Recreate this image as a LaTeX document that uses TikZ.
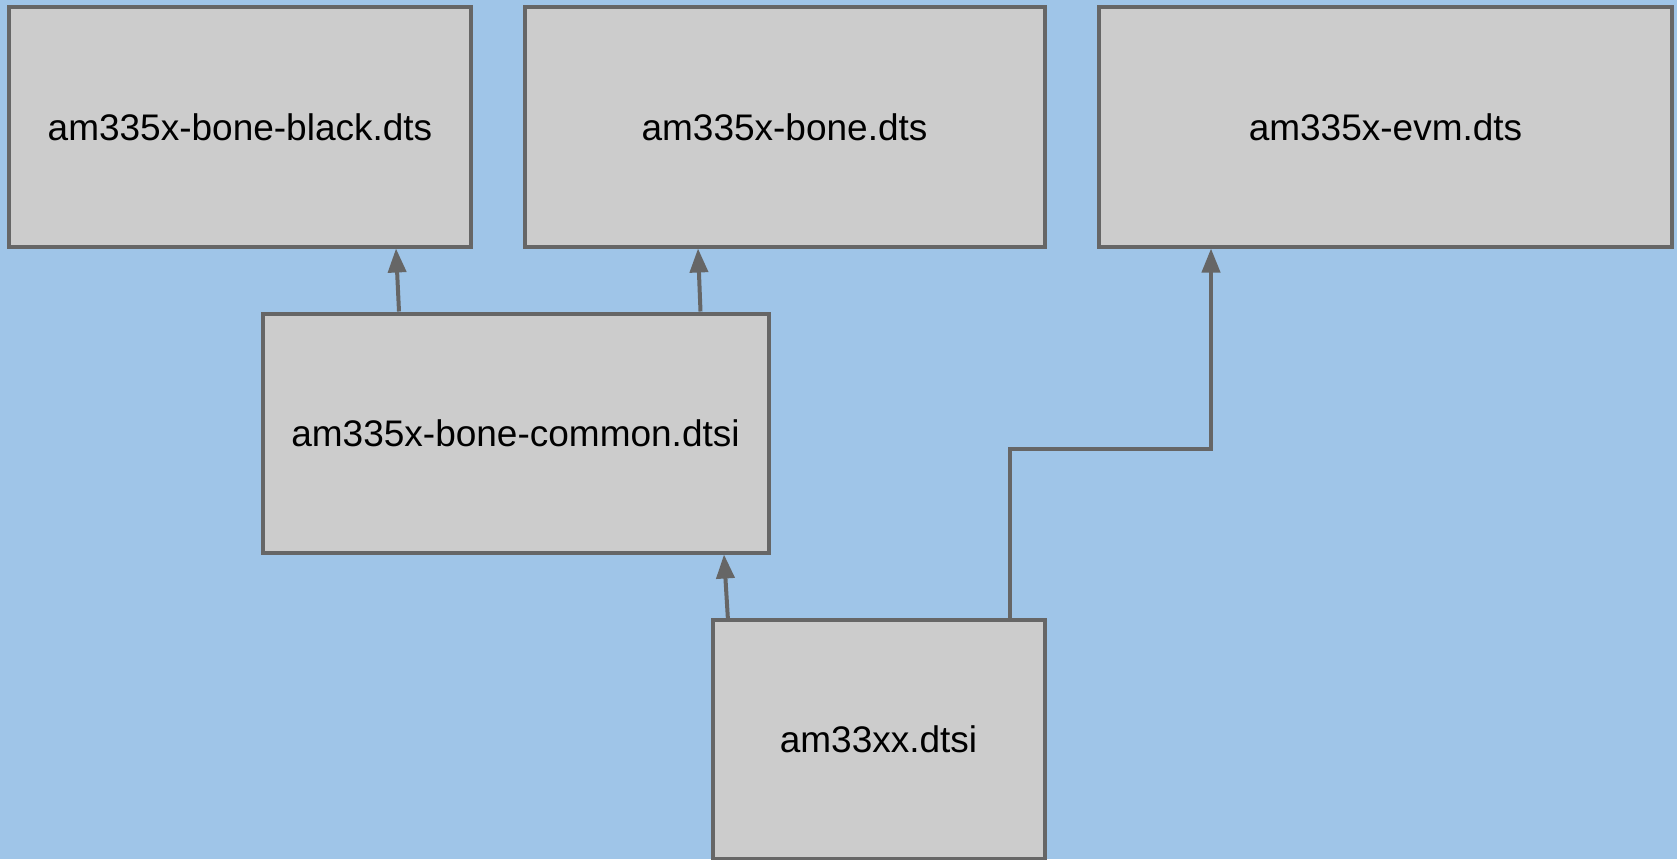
\documentclass[tikz,border=0pt]{standalone}
\usepackage{fontspec}
\setmainfont{Liberation Sans}
\usetikzlibrary{arrows.meta}
\definecolor{bg}{HTML}{9FC5E8}
\definecolor{boxfill}{HTML}{CCCCCC}
\definecolor{edge}{HTML}{666666}

\begin{document}
\begin{tikzpicture}[x=1pt, y=-1pt,
        file/.style={draw=edge, fill=boxfill, line width=4pt, inner sep=0pt, minimum height=239pt, font=\fontsize{37}{44}\selectfont},
        inc/.style={draw=edge, line width=4pt, -{Triangle[length=24pt, width=18pt]}}]
        \useasboundingbox (0,0) rectangle (1677,859);
        \fill[bg] (0,0) rectangle (1677,859);
        \path (240,127) node[file, minimum width=462pt](black) {am335x-bone-black.dts}
            (784.5,127) node[file, minimum width=520pt](bone) {am335x-bone.dts}
            (1385.5,127) node[file, minimum width=573pt](evm) {am335x-evm.dts}
            (515.5,433) node[file, minimum width=506pt](common) {am335x-bone-common.dtsi}
            (878.5,739) node[file, minimum width=332pt](am33xx) {am33xx.dtsi};
        \draw[inc] ([xshift=-116.5pt]common.north) -- ([xshift=156pt]black.south);
        \draw[inc] ([xshift=185pt]common.north) -- ([xshift=-86.5pt]bone.south);
        \draw[inc] ([xshift=-150.5pt, yshift=-3pt]am33xx.north) -- ([xshift=208.5pt]common.south);
        \draw[inc] ([xshift=131pt]am33xx.north) -- ++(0,-169) -| ([xshift=-174.5pt]evm.south);
    \end{tikzpicture}
\end{document}
